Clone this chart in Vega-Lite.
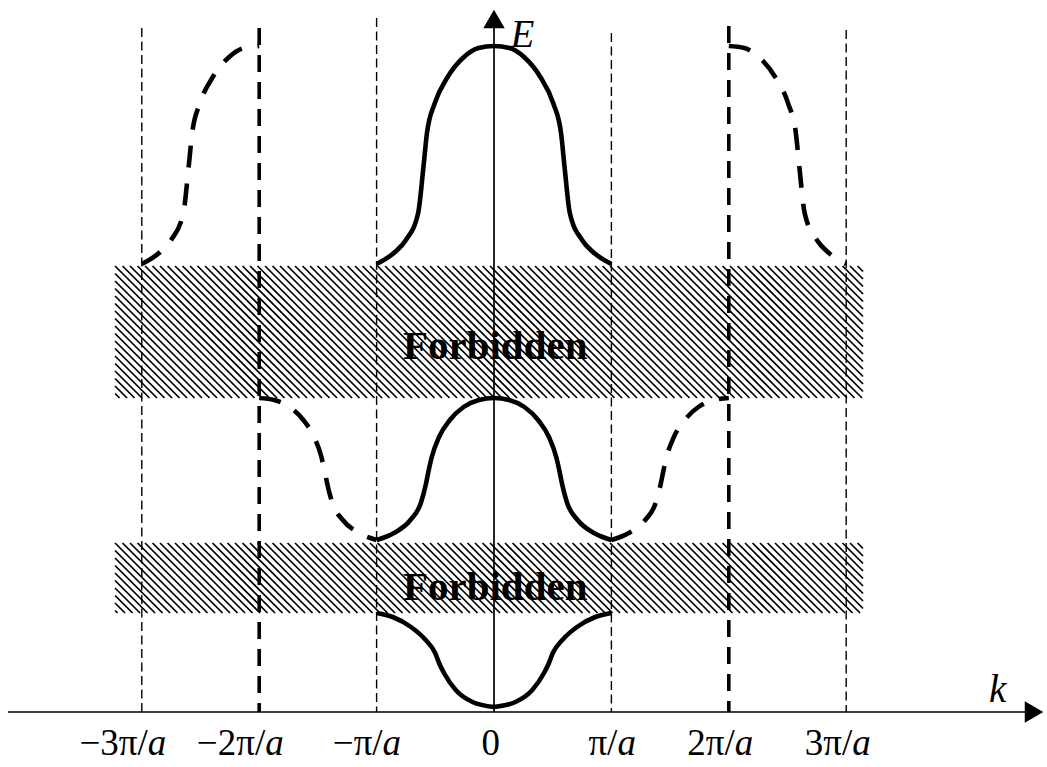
{
  "$schema": "https://vega.github.io/schema/vega-lite/v6.json",
  "width": 1047,
  "height": 767,
  "autosize": {"type": "none"},
  "padding": 0,
  "background": "white",
  "config": {"view": {"stroke": null}},
  "datasets": {
    "bands": [
      {"name": "upper", "k1": -3.228, "k2": 3.143, "Ebot": 3.14, "Etop": 4.46},
      {"name": "lower", "k1": -3.228, "k2": 3.143, "Ebot": 0.99, "Etop": 1.69}
    ],
    "vlines": [
      {"k": -3, "Etop": 6.84, "Ebot": 0, "w": "thin"},
      {"k": -2, "Etop": 6.84, "Ebot": 0, "w": "thick"},
      {"k": -1, "Etop": 6.94, "Ebot": 0, "w": "thin"},
      {"k": 1, "Etop": 6.79, "Ebot": 0, "w": "thin"},
      {"k": 2, "Etop": 6.86, "Ebot": 0, "w": "thick"},
      {"k": 3, "Etop": 6.82, "Ebot": 0, "w": "thin"}
    ],
    "axes": [
      {"x1": -4.14, "x2": 4.57, "y1": 0, "y2": 0},
      {"x1": 0, "x2": 0, "y1": 0, "y2": 6.87}
    ],
    "arrows": [
      {"k": 4.6, "E": 0, "dir": "right"},
      {"k": 0, "E": 6.93, "dir": "up"}
    ],
    "curves": [
      {"id": "b1L", "s": "solid", "k": -1.0, "E": 0.99},
      {"id": "b1L", "s": "solid", "k": -0.863, "E": 0.95},
      {"id": "b1L", "s": "solid", "k": -0.707, "E": 0.85},
      {"id": "b1L", "s": "solid", "k": -0.582, "E": 0.72},
      {"id": "b1L", "s": "solid", "k": -0.501, "E": 0.59},
      {"id": "b1L", "s": "solid", "k": -0.468, "E": 0.49},
      {"id": "b1L", "s": "solid", "k": -0.426, "E": 0.39},
      {"id": "b1L", "s": "solid", "k": -0.326, "E": 0.22},
      {"id": "b1L", "s": "solid", "k": -0.183, "E": 0.10},
      {"id": "b1L", "s": "solid", "k": 0, "E": 0.05},
      {"id": "b1R", "s": "solid", "k": 0, "E": 0.05},
      {"id": "b1R", "s": "solid", "k": 0.183, "E": 0.10},
      {"id": "b1R", "s": "solid", "k": 0.326, "E": 0.22},
      {"id": "b1R", "s": "solid", "k": 0.426, "E": 0.39},
      {"id": "b1R", "s": "solid", "k": 0.468, "E": 0.49},
      {"id": "b1R", "s": "solid", "k": 0.501, "E": 0.59},
      {"id": "b1R", "s": "solid", "k": 0.582, "E": 0.72},
      {"id": "b1R", "s": "solid", "k": 0.707, "E": 0.85},
      {"id": "b1R", "s": "solid", "k": 0.863, "E": 0.95},
      {"id": "b1R", "s": "solid", "k": 1.0, "E": 0.99},
      {"id": "b2", "s": "solid", "k": -1.0, "E": 1.72},
      {"id": "b2", "s": "solid", "k": -0.852, "E": 1.79},
      {"id": "b2", "s": "solid", "k": -0.712, "E": 1.92},
      {"id": "b2", "s": "solid", "k": -0.623, "E": 2.09},
      {"id": "b2", "s": "solid", "k": -0.578, "E": 2.29},
      {"id": "b2", "s": "solid", "k": -0.561, "E": 2.39},
      {"id": "b2", "s": "solid", "k": -0.530, "E": 2.55},
      {"id": "b2", "s": "solid", "k": -0.468, "E": 2.75},
      {"id": "b2", "s": "solid", "k": -0.376, "E": 2.92},
      {"id": "b2", "s": "solid", "k": -0.259, "E": 3.05},
      {"id": "b2", "s": "solid", "k": -0.128, "E": 3.12},
      {"id": "b2", "s": "solid", "k": 0, "E": 3.14},
      {"id": "b2", "s": "solid", "k": 0.128, "E": 3.12},
      {"id": "b2", "s": "solid", "k": 0.259, "E": 3.05},
      {"id": "b2", "s": "solid", "k": 0.376, "E": 2.92},
      {"id": "b2", "s": "solid", "k": 0.468, "E": 2.75},
      {"id": "b2", "s": "solid", "k": 0.530, "E": 2.55},
      {"id": "b2", "s": "solid", "k": 0.561, "E": 2.39},
      {"id": "b2", "s": "solid", "k": 0.578, "E": 2.29},
      {"id": "b2", "s": "solid", "k": 0.623, "E": 2.09},
      {"id": "b2", "s": "solid", "k": 0.712, "E": 1.92},
      {"id": "b2", "s": "solid", "k": 0.852, "E": 1.79},
      {"id": "b2", "s": "solid", "k": 1.0, "E": 1.72},
      {"id": "b3", "s": "solid", "k": -1.0, "E": 4.48},
      {"id": "b3", "s": "solid", "k": -0.843, "E": 4.60},
      {"id": "b3", "s": "solid", "k": -0.75, "E": 4.72},
      {"id": "b3", "s": "solid", "k": -0.646, "E": 4.99},
      {"id": "b3", "s": "solid", "k": -0.601, "E": 5.45},
      {"id": "b3", "s": "solid", "k": -0.571, "E": 5.79},
      {"id": "b3", "s": "solid", "k": -0.504, "E": 6.09},
      {"id": "b3", "s": "solid", "k": -0.395, "E": 6.35},
      {"id": "b3", "s": "solid", "k": -0.256, "E": 6.55},
      {"id": "b3", "s": "solid", "k": -0.132, "E": 6.64},
      {"id": "b3", "s": "solid", "k": 0, "E": 6.66},
      {"id": "b3", "s": "solid", "k": 0.132, "E": 6.64},
      {"id": "b3", "s": "solid", "k": 0.256, "E": 6.55},
      {"id": "b3", "s": "solid", "k": 0.395, "E": 6.35},
      {"id": "b3", "s": "solid", "k": 0.504, "E": 6.09},
      {"id": "b3", "s": "solid", "k": 0.571, "E": 5.79},
      {"id": "b3", "s": "solid", "k": 0.601, "E": 5.45},
      {"id": "b3", "s": "solid", "k": 0.646, "E": 4.99},
      {"id": "b3", "s": "solid", "k": 0.75, "E": 4.72},
      {"id": "b3", "s": "solid", "k": 0.843, "E": 4.60},
      {"id": "b3", "s": "solid", "k": 1.0, "E": 4.48},
      {"id": "b2L", "s": "dashed", "k": -2.0, "E": 3.14},
      {"id": "b2L", "s": "dashed", "k": -1.872, "E": 3.12},
      {"id": "b2L", "s": "dashed", "k": -1.741, "E": 3.05},
      {"id": "b2L", "s": "dashed", "k": -1.624, "E": 2.92},
      {"id": "b2L", "s": "dashed", "k": -1.532, "E": 2.75},
      {"id": "b2L", "s": "dashed", "k": -1.470, "E": 2.55},
      {"id": "b2L", "s": "dashed", "k": -1.439, "E": 2.39},
      {"id": "b2L", "s": "dashed", "k": -1.422, "E": 2.29},
      {"id": "b2L", "s": "dashed", "k": -1.377, "E": 2.09},
      {"id": "b2L", "s": "dashed", "k": -1.288, "E": 1.92},
      {"id": "b2L", "s": "dashed", "k": -1.148, "E": 1.79},
      {"id": "b2L", "s": "dashed", "k": -1.0, "E": 1.72},
      {"id": "b2R", "s": "dashed", "k": 1.0, "E": 1.72},
      {"id": "b2R", "s": "dashed", "k": 1.148, "E": 1.79},
      {"id": "b2R", "s": "dashed", "k": 1.288, "E": 1.92},
      {"id": "b2R", "s": "dashed", "k": 1.377, "E": 2.09},
      {"id": "b2R", "s": "dashed", "k": 1.422, "E": 2.29},
      {"id": "b2R", "s": "dashed", "k": 1.439, "E": 2.39},
      {"id": "b2R", "s": "dashed", "k": 1.470, "E": 2.55},
      {"id": "b2R", "s": "dashed", "k": 1.532, "E": 2.75},
      {"id": "b2R", "s": "dashed", "k": 1.624, "E": 2.92},
      {"id": "b2R", "s": "dashed", "k": 1.741, "E": 3.05},
      {"id": "b2R", "s": "dashed", "k": 1.872, "E": 3.12},
      {"id": "b2R", "s": "dashed", "k": 2.0, "E": 3.14},
      {"id": "b3L", "s": "dashed", "k": -3.0, "E": 4.48},
      {"id": "b3L", "s": "dashed", "k": -2.843, "E": 4.60},
      {"id": "b3L", "s": "dashed", "k": -2.75, "E": 4.72},
      {"id": "b3L", "s": "dashed", "k": -2.646, "E": 4.99},
      {"id": "b3L", "s": "dashed", "k": -2.601, "E": 5.45},
      {"id": "b3L", "s": "dashed", "k": -2.571, "E": 5.79},
      {"id": "b3L", "s": "dashed", "k": -2.504, "E": 6.09},
      {"id": "b3L", "s": "dashed", "k": -2.395, "E": 6.35},
      {"id": "b3L", "s": "dashed", "k": -2.256, "E": 6.55},
      {"id": "b3L", "s": "dashed", "k": -2.132, "E": 6.64},
      {"id": "b3L", "s": "dashed", "k": -2.0, "E": 6.66},
      {"id": "b3R", "s": "dashed", "k": 2.0, "E": 6.66},
      {"id": "b3R", "s": "dashed", "k": 2.132, "E": 6.64},
      {"id": "b3R", "s": "dashed", "k": 2.256, "E": 6.55},
      {"id": "b3R", "s": "dashed", "k": 2.395, "E": 6.35},
      {"id": "b3R", "s": "dashed", "k": 2.504, "E": 6.09},
      {"id": "b3R", "s": "dashed", "k": 2.571, "E": 5.79},
      {"id": "b3R", "s": "dashed", "k": 2.601, "E": 5.45},
      {"id": "b3R", "s": "dashed", "k": 2.646, "E": 4.99},
      {"id": "b3R", "s": "dashed", "k": 2.75, "E": 4.72},
      {"id": "b3R", "s": "dashed", "k": 2.843, "E": 4.60},
      {"id": "b3R", "s": "dashed", "k": 3.0, "E": 4.48}
    ],
    "ticks": [
      {"k": -3, "E": -0.43, "pre": "−3π/", "post": "a"},
      {"k": -2, "E": -0.43, "pre": "−2π/", "post": "a"},
      {"k": -1, "E": -0.43, "pre": "−π/", "post": "a"},
      {"k": 0, "E": -0.43, "pre": "0", "post": ""},
      {"k": 1, "E": -0.43, "pre": "π/", "post": "a"},
      {"k": 2, "E": -0.43, "pre": "2π/", "post": "a"},
      {"k": 3, "E": -0.43, "pre": "3π/", "post": "a"}
    ],
    "titles": [
      {"k": 0.243, "E": 6.65, "t": "E"},
      {"k": 4.29, "E": 0.10, "t": "k"}
    ],
    "forbidden": [
      {"k": 0.01, "E": 3.53, "t": "Forbidden"},
      {"k": 0.01, "E": 1.12, "t": "Forbidden"}
    ]
  },
  "layer": [
    {
      "data": {"name": "bands"},
      "transform": [{"filter": "datum.name === 'upper'"}],
      "mark": {
        "type": "point", "filled": false, "stroke": "#000", "strokeWidth": 1.7, "opacity": 1, "size": 4,
        "shape": "M0 127.5l4.5 4.5M0 120l12 12M0 112.5l19.5 19.5M0 105l27 27M0 97.5l34.5 34.5M0 90l42 42M0 82.5l49.5 49.5M0 75l57 57M0 67.5l64.5 64.5M0 60l72 72M0 52.5l79.5 79.5M0 45l87 87M0 37.5l94.5 94.5M0 30l102 102M0 22.5l109.5 109.5M0 15l117 117M0 7.5l124.5 124.5M0 0l132 132M7.5 0l132 132M15 0l132 132M22.5 0l132 132M30 0l132 132M37.5 0l132 132M45 0l132 132M52.5 0l132 132M60 0l132 132M67.5 0l132 132M75 0l132 132M82.5 0l132 132M90 0l132 132M97.5 0l132 132M105 0l132 132M112.5 0l132 132M120 0l132 132M127.5 0l132 132M135 0l132 132M142.5 0l132 132M150 0l132 132M157.5 0l132 132M165 0l132 132M172.5 0l132 132M180 0l132 132M187.5 0l132 132M195 0l132 132M202.5 0l132 132M210 0l132 132M217.5 0l132 132M225 0l132 132M232.5 0l132 132M240 0l132 132M247.5 0l132 132M255 0l132 132M262.5 0l132 132M270 0l132 132M277.5 0l132 132M285 0l132 132M292.5 0l132 132M300 0l132 132M307.5 0l132 132M315 0l132 132M322.5 0l132 132M330 0l132 132M337.5 0l132 132M345 0l132 132M352.5 0l132 132M360 0l132 132M367.5 0l132 132M375 0l132 132M382.5 0l132 132M390 0l132 132M397.5 0l132 132M405 0l132 132M412.5 0l132 132M420 0l132 132M427.5 0l132 132M435 0l132 132M442.5 0l132 132M450 0l132 132M457.5 0l132 132M465 0l132 132M472.5 0l132 132M480 0l132 132M487.5 0l132 132M495 0l132 132M502.5 0l132 132M510 0l132 132M517.5 0l132 132M525 0l132 132M532.5 0l132 132M540 0l132 132M547.5 0l132 132M555 0l132 132M562.5 0l132 132M570 0l132 132M577.5 0l132 132M585 0l132 132M592.5 0l132 132M600 0l132 132M607.5 0l132 132M615 0l132 132M622.5 0l125.5 125.5M630 0l118 118M637.5 0l110.5 110.5M645 0l103 103M652.5 0l95.5 95.5M660 0l88 88M667.5 0l80.5 80.5M675 0l73 73M682.5 0l65.5 65.5M690 0l58 58M697.5 0l50.5 50.5M705 0l43 43M712.5 0l35.5 35.5M720 0l28 28M727.5 0l20.5 20.5M735 0l13 13M742.5 0l5.5 5.5"
      },
      "encoding": {
        "x": {"field": "k1", "type": "quantitative", "scale": {"domain": [-4.2078, 4.7104], "nice": false, "zero": false}, "axis": null},
        "y": {"field": "Etop", "type": "quantitative", "scale": {"domain": [-0.55, 7.12], "nice": false, "zero": false}, "axis": null}
      }
    },
    {
      "data": {"name": "bands"},
      "transform": [{"filter": "datum.name === 'lower'"}],
      "mark": {
        "type": "point", "filled": false, "stroke": "#000", "strokeWidth": 1.7, "opacity": 1, "size": 4,
        "shape": "M0 67.5l2.5 2.5M0 60l10 10M0 52.5l17.5 17.5M0 45l25 25M0 37.5l32.5 32.5M0 30l40 40M0 22.5l47.5 47.5M0 15l55 55M0 7.5l62.5 62.5M0 0l70 70M7.5 0l70 70M15 0l70 70M22.5 0l70 70M30 0l70 70M37.5 0l70 70M45 0l70 70M52.5 0l70 70M60 0l70 70M67.5 0l70 70M75 0l70 70M82.5 0l70 70M90 0l70 70M97.5 0l70 70M105 0l70 70M112.5 0l70 70M120 0l70 70M127.5 0l70 70M135 0l70 70M142.5 0l70 70M150 0l70 70M157.5 0l70 70M165 0l70 70M172.5 0l70 70M180 0l70 70M187.5 0l70 70M195 0l70 70M202.5 0l70 70M210 0l70 70M217.5 0l70 70M225 0l70 70M232.5 0l70 70M240 0l70 70M247.5 0l70 70M255 0l70 70M262.5 0l70 70M270 0l70 70M277.5 0l70 70M285 0l70 70M292.5 0l70 70M300 0l70 70M307.5 0l70 70M315 0l70 70M322.5 0l70 70M330 0l70 70M337.5 0l70 70M345 0l70 70M352.5 0l70 70M360 0l70 70M367.5 0l70 70M375 0l70 70M382.5 0l70 70M390 0l70 70M397.5 0l70 70M405 0l70 70M412.5 0l70 70M420 0l70 70M427.5 0l70 70M435 0l70 70M442.5 0l70 70M450 0l70 70M457.5 0l70 70M465 0l70 70M472.5 0l70 70M480 0l70 70M487.5 0l70 70M495 0l70 70M502.5 0l70 70M510 0l70 70M517.5 0l70 70M525 0l70 70M532.5 0l70 70M540 0l70 70M547.5 0l70 70M555 0l70 70M562.5 0l70 70M570 0l70 70M577.5 0l70 70M585 0l70 70M592.5 0l70 70M600 0l70 70M607.5 0l70 70M615 0l70 70M622.5 0l70 70M630 0l70 70M637.5 0l70 70M645 0l70 70M652.5 0l70 70M660 0l70 70M667.5 0l70 70M675 0l70 70M682.5 0l65.5 65.5M690 0l58 58M697.5 0l50.5 50.5M705 0l43 43M712.5 0l35.5 35.5M720 0l28 28M727.5 0l20.5 20.5M735 0l13 13M742.5 0l5.5 5.5"
      },
      "encoding": {
        "x": {"field": "k1", "type": "quantitative", "scale": {"domain": [-4.2078, 4.7104], "nice": false, "zero": false}, "axis": null},
        "y": {"field": "Etop", "type": "quantitative", "scale": {"domain": [-0.55, 7.12], "nice": false, "zero": false}, "axis": null}
      }
    },
    {
      "data": {"name": "vlines"},
      "transform": [{"filter": "datum.w === 'thin'"}],
      "mark": {"type": "rule", "color": "#000", "strokeWidth": 1.4, "strokeDash": [9, 4.5]},
      "encoding": {
        "x": {"field": "k", "type": "quantitative", "scale": {"domain": [-4.2078, 4.7104], "nice": false, "zero": false}, "axis": null},
        "y": {"field": "Etop", "type": "quantitative", "scale": {"domain": [-0.55, 7.12], "nice": false, "zero": false}, "axis": null},
        "y2": {"field": "Ebot"}
      }
    },
    {
      "data": {"name": "vlines"},
      "transform": [{"filter": "datum.w === 'thick'"}],
      "mark": {"type": "rule", "color": "#000", "strokeWidth": 3.6, "strokeDash": [17, 10]},
      "encoding": {
        "x": {"field": "k", "type": "quantitative", "scale": {"domain": [-4.2078, 4.7104], "nice": false, "zero": false}, "axis": null},
        "y": {"field": "Etop", "type": "quantitative", "scale": {"domain": [-0.55, 7.12], "nice": false, "zero": false}, "axis": null},
        "y2": {"field": "Ebot"}
      }
    },
    {
      "data": {"name": "axes"},
      "mark": {"type": "rule", "color": "#000", "strokeWidth": 1.7},
      "encoding": {
        "x": {"field": "x1", "type": "quantitative", "scale": {"domain": [-4.2078, 4.7104], "nice": false, "zero": false}, "axis": null},
        "x2": {"field": "x2"},
        "y": {"field": "y1", "type": "quantitative", "scale": {"domain": [-0.55, 7.12], "nice": false, "zero": false}, "axis": null},
        "y2": {"field": "y2"}
      }
    },
    {
      "data": {"name": "arrows"},
      "mark": {"type": "point", "filled": true, "color": "#000", "opacity": 1, "size": 460, "strokeWidth": 0},
      "encoding": {
        "x": {"field": "k", "type": "quantitative", "scale": {"domain": [-4.2078, 4.7104], "nice": false, "zero": false}, "axis": null},
        "y": {"field": "E", "type": "quantitative", "scale": {"domain": [-0.55, 7.12], "nice": false, "zero": false}, "axis": null},
        "shape": {"field": "dir", "type": "nominal", "scale": {"domain": ["right", "up"], "range": ["triangle-right", "triangle-up"]}, "legend": null}
      }
    },
    {
      "data": {"name": "curves"},
      "transform": [{"filter": "datum.s === 'solid'"}],
      "mark": {"type": "line", "color": "#000", "strokeWidth": 4.6, "interpolate": "monotone", "strokeCap": "butt"},
      "encoding": {
        "x": {"field": "k", "type": "quantitative", "scale": {"domain": [-4.2078, 4.7104], "nice": false, "zero": false}, "axis": null},
        "y": {"field": "E", "type": "quantitative", "scale": {"domain": [-0.55, 7.12], "nice": false, "zero": false}, "axis": null},
        "detail": {"field": "id", "type": "nominal"}
      }
    },
    {
      "data": {"name": "curves"},
      "transform": [{"filter": "datum.s === 'dashed'"}],
      "mark": {"type": "line", "color": "#000", "strokeWidth": 4.6, "interpolate": "monotone", "strokeDash": [22, 16], "strokeCap": "butt"},
      "encoding": {
        "x": {"field": "k", "type": "quantitative", "scale": {"domain": [-4.2078, 4.7104], "nice": false, "zero": false}, "axis": null},
        "y": {"field": "E", "type": "quantitative", "scale": {"domain": [-0.55, 7.12], "nice": false, "zero": false}, "axis": null},
        "detail": {"field": "id", "type": "nominal"}
      }
    },
    {
      "data": {"name": "ticks"},
      "mark": {"type": "text", "color": "#000", "font": "Liberation Serif", "fontSize": 37, "align": "right", "baseline": "alphabetic", "dx": 6},
      "encoding": {
        "x": {"field": "k", "type": "quantitative", "scale": {"domain": [-4.2078, 4.7104], "nice": false, "zero": false}, "axis": null},
        "y": {"field": "E", "type": "quantitative", "scale": {"domain": [-0.55, 7.12], "nice": false, "zero": false}, "axis": null},
        "text": {"field": "pre"}
      }
    },
    {
      "data": {"name": "ticks"},
      "mark": {"type": "text", "color": "#000", "font": "Liberation Serif", "fontSize": 37, "fontStyle": "italic", "align": "left", "baseline": "alphabetic", "dx": 6},
      "encoding": {
        "x": {"field": "k", "type": "quantitative", "scale": {"domain": [-4.2078, 4.7104], "nice": false, "zero": false}, "axis": null},
        "y": {"field": "E", "type": "quantitative", "scale": {"domain": [-0.55, 7.12], "nice": false, "zero": false}, "axis": null},
        "text": {"field": "post"}
      }
    },
    {
      "data": {"name": "titles"},
      "mark": {"type": "text", "color": "#000", "font": "Liberation Serif", "fontSize": 39, "fontStyle": "italic", "align": "center", "baseline": "alphabetic"},
      "encoding": {
        "x": {"field": "k", "type": "quantitative", "scale": {"domain": [-4.2078, 4.7104], "nice": false, "zero": false}, "axis": null},
        "y": {"field": "E", "type": "quantitative", "scale": {"domain": [-0.55, 7.12], "nice": false, "zero": false}, "axis": null},
        "text": {"field": "t"}
      }
    },
    {
      "data": {"name": "forbidden"},
      "mark": {"type": "text", "color": "#000", "font": "Liberation Serif", "fontSize": 41, "fontWeight": "bold", "align": "center", "baseline": "alphabetic"},
      "encoding": {
        "x": {"field": "k", "type": "quantitative", "scale": {"domain": [-4.2078, 4.7104], "nice": false, "zero": false}, "axis": null},
        "y": {"field": "E", "type": "quantitative", "scale": {"domain": [-0.55, 7.12], "nice": false, "zero": false}, "axis": null},
        "text": {"field": "t"}
      }
    }
  ]
}
